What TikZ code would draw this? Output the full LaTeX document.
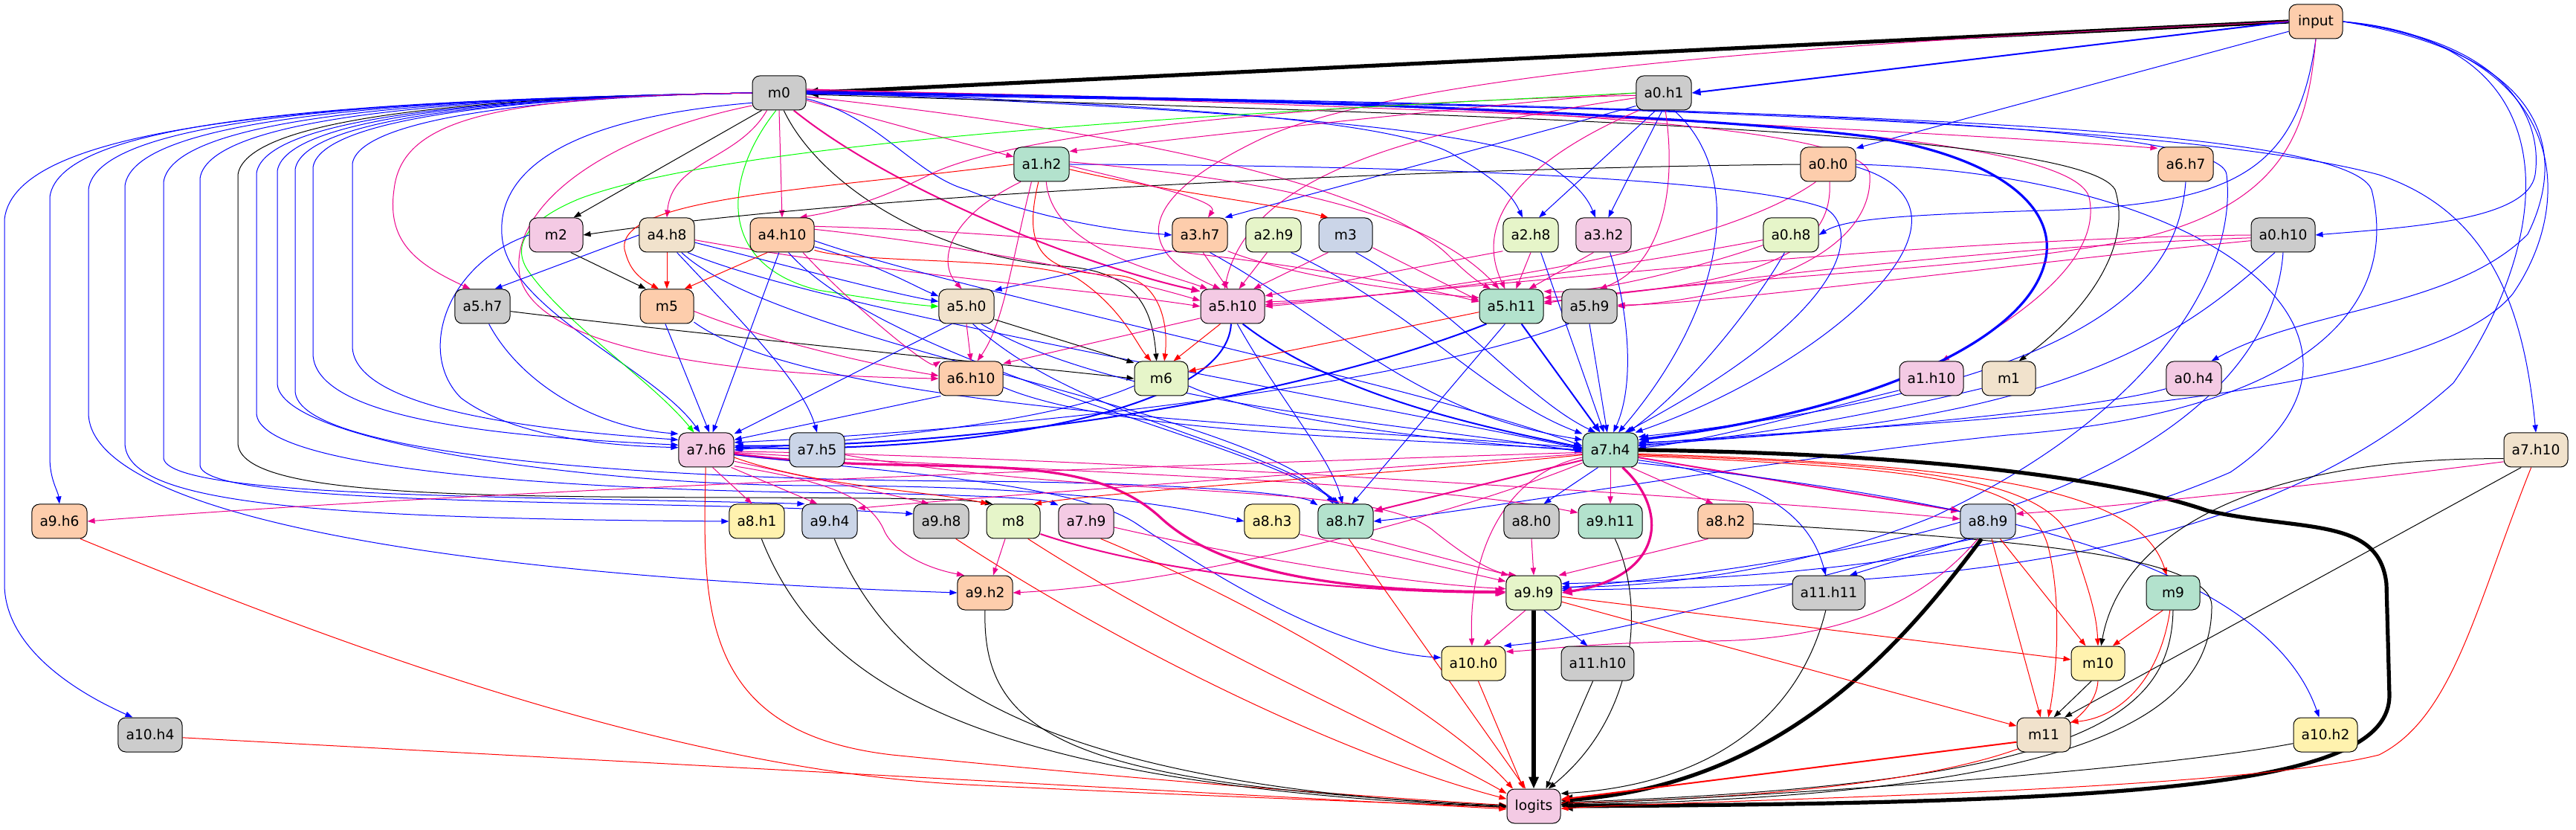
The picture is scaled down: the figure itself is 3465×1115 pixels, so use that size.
\documentclass[tikz,border=0pt]{standalone}
\usepackage{fontspec}
\setmainfont{DejaVu Sans}
\usetikzlibrary{arrows.meta}
\pgfdeclarelayer{bg}
\pgfdeclarelayer{edges}
\pgfsetlayers{bg,edges,main}
\definecolor{cA}{HTML}{B3E2CD}
\definecolor{cB}{HTML}{FDCDAC}
\definecolor{cC}{HTML}{CBD5E8}
\definecolor{cD}{HTML}{F4CAE4}
\definecolor{cE}{HTML}{E6F5C9}
\definecolor{cF}{HTML}{FFF2AE}
\definecolor{cG}{HTML}{F1E2CC}
\definecolor{cH}{HTML}{CCCCCC}
\begin{document}
\begin{tikzpicture}[x=0.5pt,y=0.5pt,
  nd/.style={draw=black,line width=0.5pt,rounded corners=5pt,minimum width=36pt,minimum height=23pt,inner xsep=5.3pt,inner ysep=2pt,font=\fontsize{9.33pt}{11pt}\selectfont},
  ed/.style={line width=0.5pt,-{Triangle[length=5pt,width=3.6pt]}},
  eb/.style={ed,draw=blue},
  em/.style={ed,draw=magenta},
  eg/.style={ed,draw=green},
  er/.style={ed,draw=red},
  ek/.style={ed,draw=black},
  wB/.style={line width=1pt,-{Triangle[length=6pt,width=4.6pt]}},
  wC/.style={line width=1.6pt,-{Triangle[length=7pt,width=5.6pt]}},
  wD/.style={line width=2.6pt,-{Triangle[length=8pt,width=6.4pt]}}]
\useasboundingbox (0,0) rectangle (3465,1115);
\begin{pgfonlayer}{bg}
\fill[white] (0,0) rectangle (3465,1115);
\end{pgfonlayer}
% nodes
\node[nd,fill=cB] (input) at (3115,1086) {input};
\node[nd,fill=cH] (m0) at (1048,990) {m0};
\node[nd,fill=cH] (a0h1) at (2238,990) {a0.h1};
\node[nd,fill=cA] (a1h2) at (1401,894) {a1.h2};
\node[nd,fill=cB] (a0h0) at (2459,894) {a0.h0};
\node[nd,fill=cB] (a6h7) at (2940,894) {a6.h7};
\node[nd,fill=cD] (m2) at (748,799) {m2};
\node[nd,fill=cG] (a4h8) at (897,799) {a4.h8};
\node[nd,fill=cB] (a4h10) at (1052,799) {a4.h10};
\node[nd,fill=cB] (a3h7) at (1614,799) {a3.h7};
\node[nd,fill=cE] (a2h9) at (1713,799) {a2.h9};
\node[nd,fill=cC] (m3) at (1810,799) {m3};
\node[nd,fill=cE] (a2h8) at (2059,799) {a2.h8};
\node[nd,fill=cD] (a3h2) at (2157,799) {a3.h2};
\node[nd,fill=cE] (a0h8) at (2409,799) {a0.h8};
\node[nd,fill=cH] (a0h10) at (3071,799) {a0.h10};
\node[nd,fill=cH] (a5h7) at (649,703) {a5.h7};
\node[nd,fill=cB] (m5) at (897,703) {m5};
\node[nd,fill=cG] (a5h0) at (1300,703) {a5.h0};
\node[nd,fill=cD] (a5h10) at (1658,703) {a5.h10};
\node[nd,fill=cA] (a5h11) at (2033,703) {a5.h11};
\node[nd,fill=cH] (a5h9) at (2138,703) {a5.h9};
\node[nd,fill=cB] (a6h10) at (1306,606) {a6.h10};
\node[nd,fill=cE] (m6) at (1562,606) {m6};
\node[nd,fill=cD] (a1h10) at (2598,606) {a1.h10};
\node[nd,fill=cG] (m1) at (2702,606) {m1};
\node[nd,fill=cD] (a0h4) at (2951,606) {a0.h4};
\node[nd,fill=cD] (a7h6) at (950,510) {a7.h6};
\node[nd,fill=cC] (a7h5) at (1099,510) {a7.h5};
\node[nd,fill=cA] (a7h4) at (2166,510) {a7.h4};
\node[nd,fill=cG] (a7h10) at (3411,510) {a7.h10};
\node[nd,fill=cB] (a9h6) at (80,414) {a9.h6};
\node[nd,fill=cF] (a8h1) at (1018,414) {a8.h1};
\node[nd,fill=cC] (a9h4) at (1116,414) {a9.h4};
\node[nd,fill=cH] (a9h8) at (1266,414) {a9.h8};
\node[nd,fill=cE] (m8) at (1363,414) {m8};
\node[nd,fill=cD] (a7h9) at (1461,414) {a7.h9};
\node[nd,fill=cF] (a8h3) at (1711,414) {a8.h3};
\node[nd,fill=cA] (a8h7) at (1810,414) {a8.h7};
\node[nd,fill=cH] (a8h0) at (2060,414) {a8.h0};
\node[nd,fill=cA] (a9h11) at (2166,414) {a9.h11};
\node[nd,fill=cB] (a8h2) at (2321,414) {a8.h2};
\node[nd,fill=cC] (a8h9) at (2674,414) {a8.h9};
\node[nd,fill=cB] (a9h2) at (1325,318) {a9.h2};
\node[nd,fill=cE] (a9h9) at (2063,318) {a9.h9};
\node[nd,fill=cH] (a11h11) at (2460,318) {a11.h11};
\node[nd,fill=cA] (m9) at (2923,318) {m9};
\node[nd,fill=cF] (a10h0) at (1982,223) {a10.h0};
\node[nd,fill=cH] (a11h10) at (2149,223) {a11.h10};
\node[nd,fill=cF] (m10) at (2822,223) {m10};
\node[nd,fill=cH] (a10h4) at (202,127) {a10.h4};
\node[nd,fill=cG] (m11) at (2749,127) {m11};
\node[nd,fill=cF] (a10h2) at (3128,127) {a10.h2};
\node[nd,fill=cD] (logits) at (2063,31) {logits};

\begin{pgfonlayer}{edges}
% input
\draw[ek,wD] (input.west) -- (m0.east);
\draw[eb,wB] (input.west) -- (a0h1.east);
\draw[eb] (input.200) -- (a0h0.30);
\draw[eb] (input.south) .. controls (3090,880) and (3000,840) .. (2750,832) .. controls (2550,826) and (2480,820) .. (a0h8.east);
\draw[eb] (input.east) .. controls (3380,1060) and (3420,950) .. (3410,880) .. controls (3400,820) and (3250,810) .. (a0h10.east);
\draw[eb] (input.east) .. controls (3440,1040) and (3450,900) .. (3400,800) .. controls (3300,700) and (3100,700) .. (a0h4.45);
\draw[eb] (input.east) .. controls (3450,1050) and (3470,850) .. (3380,720) .. controls (3250,560) and (2500,545) .. (a7h4.12);
\draw[eb] (input.east) .. controls (3460,1060) and (3440,800) .. (3300,600) .. controls (3000,330) and (2500,330) .. (a9h9.5);
\draw[em] (input.south) .. controls (3105,950) and (3080,850) .. (2900,800) .. controls (2700,750) and (2300,745) .. (a5h11.5);
\draw[em] (input.west) .. controls (2500,1060) and (1900,1020) .. (1700,930) .. controls (1530,850) and (1520,780) .. (a5h10.125);
% m0 left loops
\draw[eb] (m0.west) .. controls (400,978) and (20,945) .. (6,820) -- (6,330) .. controls (6,250) and (90,190) .. (a10h4.135);
\draw[eb] (m0.west) .. controls (450,980) and (80,952) .. (67,850) -- (67,500) .. controls (67,470) and (78,455) .. (a9h6.north);
\draw[eb] (m0.west) .. controls (500,981) and (130,955) .. (119,860) -- (119,560) .. controls (119,440) and (500,345) .. (a9h2.west);
\draw[eb] (m0.west) .. controls (550,982) and (180,958) .. (168,865) -- (168,520) .. controls (168,440) and (400,418) .. (a8h1.west);
\draw[eb] (m0.west) .. controls (600,983) and (232,960) .. (220,870) -- (220,500) .. controls (220,445) and (700,448) .. (a9h4.145);
\draw[eb] (m0.west) .. controls (650,984) and (281,962) .. (269,875) -- (269,490) .. controls (269,430) and (900,445) .. (a9h8.165);
\draw[ek] (m0.west) .. controls (700,985) and (332,964) .. (320,880) -- (320,520) .. controls (320,450) and (600,447) .. (1000,446) .. controls (1200,445) and (1290,445) .. (m8.140);
\draw[eb] (m0.west) .. controls (725,985) and (357,965) .. (345,882) -- (345,560) .. controls (345,480) and (800,455) .. (1150,452) .. controls (1300,450) and (1400,445) .. (a7h9.150);
\draw[eb] (m0.west) .. controls (750,986) and (385,966) .. (373,885) -- (373,600) .. controls (373,520) and (800,462) .. (1100,462) .. controls (1400,462) and (1560,440) .. (a8h3.west);
\draw[eb] (m0.west) .. controls (775,986) and (409,967) .. (397,887) -- (397,590) .. controls (397,500) and (900,470) .. (1300,468) .. controls (1600,466) and (1750,450) .. (a8h7.150);
\draw[eb] (m0.west) .. controls (800,987) and (433,968) .. (421,890) -- (421,640) .. controls (421,540) and (750,525) .. (a7h6.170);
\draw[eb] (m0.west) .. controls (850,988) and (486,970) .. (474,895) -- (474,650) .. controls (474,560) and (750,535) .. (a7h6.160);
\draw[em] (m0.west) .. controls (650,985) and (540,950) .. (530,860) .. controls (520,790) and (560,760) .. (a5h7.125);
\draw[eb] (m0.200) .. controls (750,955) and (670,880) .. (675,800) .. controls (680,700) and (880,620) .. (a7h6.110);
\draw[em] (m0.205) .. controls (800,930) and (680,830) .. (700,740) .. controls (730,640) and (1000,610) .. (a6h10.west);
% m0 others
\draw[ek] (m0.225) -- (m2.45);
\draw[em] (m0.235) to[out=240,in=85] (a4h8.north);
\draw[em] (m0.south) -- (a4h10.north);
\draw[eg] (m0.-100) .. controls (975,880) and (960,760) .. (1100,725) .. controls (1180,712) and (1230,705) .. (a5h0.west);
\draw[ek] (m0.-75) .. controls (1100,870) and (1250,770) .. (1430,757) .. controls (1530,750) and (1550,700) .. (m6.105);
\draw[em,wB] (m0.-50) .. controls (1200,860) and (1450,760) .. (a5h10.155);
\draw[em] (m0.-15) -- (a1h2.165);
\draw[eb] (m0.-12) .. controls (1180,960) and (1230,880) .. (1300,860) .. controls (1400,820) and (1500,805) .. (a3h7.west);
\draw[eb] (m0.5) .. controls (1500,975) and (1850,960) .. (1950,910) .. controls (2020,870) and (2035,850) .. (a2h8.115);
\draw[eb] (m0.2) .. controls (1600,970) and (2000,945) .. (2080,895) .. controls (2120,868) and (2135,850) .. (a3h2.115);
\draw[em] (m0.-8) .. controls (1500,940) and (1850,870) .. (1950,770) .. controls (1975,745) and (1990,735) .. (a5h11.140);
\draw[em] (m0.8) .. controls (1800,975) and (2500,945) .. (a6h7.150);
\draw[em] (m0.3) .. controls (2000,975) and (2780,950) .. (2810,850) .. controls (2830,760) and (2700,680) .. (a1h10.60);
\draw[ek] (m0.-3) .. controls (2000,960) and (2800,940) .. (2845,860) .. controls (2870,780) and (2800,690) .. (m1.60);
\draw[em] (m0.6) .. controls (1800,980) and (2510,960) .. (2515,880) .. controls (2520,790) and (2400,720) .. (a5h9.east);
\draw[eb,wC] (m0.east) .. controls (1700,985) and (2300,960) .. (2523,930) .. controls (2700,900) and (2770,830) .. (2750,760) .. controls (2720,650) and (2500,560) .. (a7h4.20);
\draw[eb] (m0.4) .. controls (2000,975) and (2900,960) .. (3200,880) .. controls (3350,830) and (3395,700) .. (a7h10.north);
\draw[eb] (m0.1) .. controls (2200,975) and (2990,955) .. (2995,880) .. controls (3010,750) and (2900,560) .. (2600,420) .. controls (2400,340) and (2200,325) .. (a9h9.12);
\draw[eb] (m0.-2) .. controls (2200,970) and (3150,960) .. (3190,860) .. controls (3230,700) and (3100,560) .. (2700,530) .. controls (2400,500) and (2000,430) .. (a8h7.east);
% a0.h1
\draw[em] (a0h1.west) .. controls (2000,975) and (1600,930) .. (a1h2.25);
\draw[em] (a0h1.185) .. controls (1700,975) and (1350,930) .. (1250,880) .. controls (1170,840) and (1120,830) .. (a4h10.45);
\draw[eg] (a0h1.180) .. controls (1700,965) and (1000,930) .. (780,848) .. controls (700,815) and (690,780) .. (711,750) .. controls (760,680) and (880,600) .. (a7h6.125);
\draw[eb] (a0h1.205) -- (a3h7.35);
\draw[eb] (a0h1.245) -- (a2h8.65);
\draw[eb] (a0h1.265) -- (a3h2.75);
\draw[em] (a0h1.-85) .. controls (2255,870) and (2240,760) .. (a5h9.60);
\draw[em] (a0h1.190) .. controls (1900,940) and (1680,880) .. (a5h10.115);
\draw[em] (a0h1.215) .. controls (2050,900) and (1980,820) .. (a5h11.110);
\draw[eb] (a0h1.-60) .. controls (2350,880) and (2320,700) .. (a7h4.65);
% a0.h0
\draw[ek] (a0h0.west) .. controls (2000,890) and (1200,860) .. (m2.east);
\draw[em] (a0h0.-125) .. controls (2300,770) and (1900,720) .. (a5h10.east);
\draw[em] (a0h0.-85) .. controls (2465,790) and (2400,730) .. (a5h11.15);
\draw[eb] (a0h0.-5) .. controls (2700,830) and (2450,620) .. (a7h4.35);
\draw[eb] (a0h0.east) .. controls (3000,880) and (3250,650) .. (3000,480) .. controls (2700,350) and (2300,335) .. (a9h9.18);
% a0.h8, a0.h10, a0.h4
\draw[eb] (a0h8.-110) .. controls (2370,720) and (2280,600) .. (a7h4.45);
\draw[em] (a0h8.190) .. controls (2200,760) and (1900,715) .. (a5h10.8);
\draw[em] (a0h8.200) .. controls (2300,760) and (2150,720) .. (a5h11.25);
\draw[em] (a0h10.180) .. controls (2600,795) and (2000,730) .. (a5h10.3);
\draw[em] (a0h10.185) .. controls (2600,780) and (2200,720) .. (a5h11.8);
\draw[em] (a0h10.190) .. controls (2700,760) and (2300,705) .. (a5h9.3);
\draw[eb] (a0h10.-115) .. controls (2950,680) and (2800,540) .. (a7h4.15);
\draw[eb] (a0h10.-90) .. controls (3060,620) and (2900,460) .. (2500,380) .. controls (2300,340) and (2150,330) .. (a9h9.8);
\draw[eb] (a0h4.200) .. controls (2800,560) and (2400,530) .. (a7h4.10);
\draw[eb] (m1.200) .. controls (2550,565) and (2350,525) .. (a7h4.8);
\draw[eb] (a1h10.200) .. controls (2450,565) and (2300,522) .. (a7h4.4);
\draw[eb] (a6h7.south) .. controls (2930,750) and (2850,600) .. (a7h4.25);
% a1.h2
\draw[eb] (a1h2.east) .. controls (1900,893) and (2350,875) .. (2455,835) .. controls (2500,810) and (2500,700) .. (a7h4.50);
\draw[er] (a1h2.-10) .. controls (1550,860) and (1720,840) .. (m3.135);
\draw[er] (a1h2.west) .. controls (1100,860) and (830,850) .. (840,780) .. controls (845,760) and (852,745) .. (m5.115);
\draw[er] (a1h2.-100) .. controls (1375,780) and (1400,748) .. (1500,745) .. controls (1560,742) and (1572,680) .. (m6.80);
\draw[em] (a1h2.-140) .. controls (1270,820) and (1262,760) .. (a5h0.105);
\draw[em] (a1h2.-120) .. controls (1360,760) and (1350,680) .. (a6h10.70);
\draw[em] (a1h2.-75) .. controls (1415,780) and (1560,750) .. (a5h10.145);
\draw[em] (a1h2.5) .. controls (1750,870) and (1930,820) .. (a5h11.125);
\draw[em] (a1h2.-3) .. controls (1550,865) and (1640,845) .. (a3h7.65);
% row 3
\draw[eb] (a3h7.-150) -- (a5h0.30);
\draw[em] (a3h7.-80) -- (a5h10.105);
\draw[em] (a3h7.-30) .. controls (1750,740) and (1900,722) .. (a5h11.165);
\draw[eb] (a3h7.-60) .. controls (1800,680) and (1900,560) .. (a7h4.160);
\draw[em] (a2h9.-110) -- (a5h10.70);
\draw[eb] (a2h9.-45) .. controls (1900,700) and (2000,580) .. (a7h4.150);
\draw[em] (m3.-135) -- (a5h10.40);
\draw[eb] (m3.-60) .. controls (1960,700) and (2050,580) .. (a7h4.130);
\draw[em] (m3.-25) -- (a5h11.170);
\draw[em] (a2h8.south) -- (a5h11.75);
\draw[em] (a2h8.-150) -- (a5h10.18);
\draw[eb] (a2h8.-60) -- (a7h4.110);
\draw[em] (a3h2.-120) -- (a5h11.45);
\draw[eb] (a3h2.-70) .. controls (2190,700) and (2200,600) .. (a7h4.80);
\draw[eb] (a4h8.west) -- (a5h7.55);
\draw[er] (a4h8.south) -- (m5.north);
\draw[eb] (a4h8.-15) .. controls (1050,760) and (1200,720) .. (a5h0.170);
\draw[em] (a4h8.-10) .. controls (1200,745) and (1450,728) .. (a5h10.180);
\draw[eb] (a4h8.-60) .. controls (1000,680) and (1080,600) .. (a7h5.north);
\draw[eb] (a4h8.-50) .. controls (1050,650) and (1700,560) .. (a8h7.125);
\draw[eb] (a4h8.-40) .. controls (1100,700) and (1800,580) .. (a7h4.178);
\draw[er] (a4h10.-130) -- (m5.45);
\draw[eb] (a4h10.-100) -- (a7h6.70);
\draw[eb] (a4h10.-20) .. controls (1180,760) and (1230,730) .. (a5h0.160);
\draw[em] (a4h10.10) .. controls (1300,785) and (1500,745) .. (a5h10.170);
\draw[em] (a4h10.15) .. controls (1500,800) and (1850,745) .. (a5h11.172);
\draw[er] (a4h10.-25) .. controls (1150,760) and (1400,770) .. (1450,740) .. controls (1510,700) and (1530,650) .. (m6.120);
\draw[em] (a4h10.-40) .. controls (1150,700) and (1250,620) .. (a6h10.150);
\draw[eb] (a4h10.-70) .. controls (1200,620) and (1700,520) .. (a8h7.115);
\draw[eb] (a4h10.-10) .. controls (1300,720) and (1900,600) .. (a7h4.172);
\draw[ek] (m2.-50) -- (m5.140);
\draw[eb] (m2.west) .. controls (600,760) and (560,640) .. (620,580) .. controls (700,520) and (850,515) .. (a7h6.175);
% row 4
\draw[ek] (a5h7.-10) .. controls (900,670) and (1300,630) .. (m6.west);
\draw[eb] (a5h7.-70) .. controls (700,600) and (800,540) .. (a7h6.150);
\draw[eb] (m5.-95) -- (a7h6.80);
\draw[em] (m5.-10) .. controls (1050,650) and (1200,620) .. (a6h10.175);
\draw[eb] (m5.-30) .. controls (1100,560) and (1800,540) .. (a7h4.176);
\draw[em] (a5h0.south) -- (a6h10.north);
\draw[ek] (a5h0.-25) -- (m6.150);
\draw[eb] (a5h0.-130) -- (a7h6.30);
\draw[eb] (a5h0.-50) .. controls (1500,570) and (1900,545) .. (a7h4.184);
\draw[eb] (a5h0.-70) .. controls (1450,550) and (1700,520) .. (a8h7.110);
\draw[er] (a5h10.-125) -- (m6.55);
\draw[em] (a5h10.-160) -- (a6h10.25);
\draw[eb,wB] (a5h10.-95) .. controls (1650,560) and (1300,505) .. (a7h6.5);
\draw[eb,wB] (a5h10.-60) .. controls (1800,580) and (2000,540) .. (a7h4.175);
\draw[eb] (a5h10.-75) .. controls (1720,580) and (1790,500) .. (a8h7.100);
\draw[er] (a5h11.190) -- (m6.15);
\draw[eb,wB] (a5h11.-145) .. controls (1800,600) and (1400,515) .. (a7h6.8);
\draw[eb,wB] (a5h11.-60) -- (a7h4.120);
\draw[eb] (a5h11.-110) -- (a8h7.70);
\draw[eb] (a5h9.south) -- (a7h4.100);
\draw[eb] (a5h9.-140) .. controls (1900,600) and (1400,540) .. (a7h6.15);
% row 5
\draw[eb] (a6h10.-150) -- (a7h6.20);
\draw[eb] (a6h10.-15) .. controls (1500,530) and (1900,525) .. (a7h4.180);
\draw[eb] (m6.-165) .. controls (1400,540) and (1100,520) .. (a7h6.0);
\draw[eb] (m6.-15) .. controls (1700,550) and (1950,520) .. (a7h4.181);
% a7.h6
\draw[em] (a7h6.-70) -- (a8h1.105);
\draw[em] (a7h6.-35) -- (a9h4.125);
\draw[em] (a7h6.-22) .. controls (1100,470) and (1200,450) .. (a9h8.125);
\draw[er] (a7h6.-15) .. controls (1100,460) and (1250,455) .. (m8.145);
\draw[em] (a7h6.-30) .. controls (1100,470) and (1170,450) .. (1190,400) .. controls (1205,370) and (1250,350) .. (a9h2.140);
\draw[em,wC] (a7h6.-8) .. controls (1250,470) and (1450,520) .. (1560,420) .. controls (1640,345) and (1800,320) .. (a9h9.178);
\draw[em] (a7h6.-5) .. controls (1400,480) and (1900,470) .. (a9h11.165);
\draw[em] (a7h6.-3) .. controls (1500,500) and (2400,440) .. (a8h9.175);
\draw[eb] (a7h6.-10) .. controls (1200,480) and (1450,465) .. (1530,410) .. controls (1650,330) and (1800,240) .. (a10h0.170);
\draw[er] (a7h6.-92) .. controls (945,300) and (940,130) .. (1200,100) .. controls (1600,60) and (1900,40) .. (logits.178);
\draw[em] (a7h5.-10) .. controls (1500,440) and (1850,470) .. (1930,400) .. controls (1980,360) and (2010,345) .. (a9h9.135);
% a7.h4
\draw[em,wC] (a7h4.-55) .. controls (2245,430) and (2240,340) .. (a9h9.east);
\draw[em,wB] (a7h4.-15) -- (a8h9.160);
\draw[em,wB] (a7h4.200) -- (a8h7.20);
\draw[eb] (a7h4.-125) -- (a8h0.55);
\draw[em] (a7h4.south) -- (a9h11.north);
\draw[em] (a7h4.-40) -- (a8h2.125);
\draw[em] (a7h4.185) .. controls (1600,490) and (700,460) .. (a9h6.east);
\draw[em] (a7h4.188) .. controls (1700,475) and (1300,445) .. (a9h4.25);
\draw[er] (a7h4.190) .. controls (1900,480) and (1500,455) .. (m8.40);
\draw[em] (a7h4.205) .. controls (1950,420) and (1600,330) .. (a9h2.east);
\draw[em] (a7h4.195) .. controls (2030,480) and (1975,380) .. (a10h0.95);
\draw[eb] (a7h4.-20) .. controls (2400,470) and (2440,400) .. (a11h11.100);
\draw[er] (a7h4.-8) .. controls (2700,490) and (2880,450) .. (m9.110);
\draw[er] (a7h4.-10) .. controls (2600,490) and (2760,470) .. (2790,380) .. controls (2810,320) and (2820,290) .. (m10.north);
\draw[er] (a7h4.-12) .. controls (2600,485) and (2730,470) .. (2755,380) .. controls (2775,300) and (2765,200) .. (m11.75);
\draw[eb] (a7h4.-25) .. controls (2700,440) and (3050,350) .. (a10h2.110);
\draw[ek,wD] (a7h4.east) .. controls (2600,505) and (2850,470) .. (2970,428) .. controls (3100,400) and (3200,420) .. (3210,330) -- (3214,180) .. controls (3214,60) and (2900,35) .. (logits.east);
% a7.h10
\draw[em] (a7h10.200) .. controls (3100,460) and (2800,430) .. (a8h9.15);
\draw[ek] (a7h10.195) .. controls (3000,500) and (2850,380) .. (m10.80);
\draw[ek] (a7h10.-130) -- (m11.40);
\draw[er] (a7h10.-105) .. controls (3330,300) and (3300,150) .. (3200,100) .. controls (3000,50) and (2300,40) .. (logits.-5);
% row 7
\draw[er] (a9h6.-40) .. controls (450,250) and (900,80) .. (1300,60) .. controls (1600,45) and (1900,35) .. (logits.183);
\draw[ek] (a8h1.-75) .. controls (1100,200) and (1300,60) .. (logits.182);
\draw[ek] (a9h4.-75) .. controls (1200,200) and (1400,60) .. (logits.181);
\draw[er] (a9h8.-50) .. controls (1500,250) and (1800,100) .. (logits.165);
\draw[em] (m8.-115) -- (a9h2.65);
\draw[em,wB] (m8.-25) .. controls (1600,330) and (1900,318) .. (a9h9.180);
\draw[er] (m8.-50) .. controls (1600,250) and (1900,120) .. (logits.155);
\draw[em] (a7h9.-12) .. controls (1700,360) and (1900,330) .. (a9h9.172);
\draw[er] (a7h9.-50) .. controls (1700,300) and (1950,150) .. (logits.140);
\draw[em] (a8h3.-25) -- (a9h9.158);
\draw[em] (a8h7.-35) -- (a9h9.145);
\draw[er] (a8h7.-80) -- (logits.115);
\draw[em] (a8h0.south) -- (a9h9.north);
\draw[ek] (a9h11.-75) .. controls (2215,300) and (2200,150) .. (logits.50);
\draw[em] (a8h2.-135) -- (a9h9.35);
\draw[ek] (a8h2.-5) .. controls (2700,390) and (2975,370) .. (2975,300) .. controls (2975,150) and (2800,45) .. (logits.3);
\draw[eb] (a8h9.-140) -- (a11h11.40);
\draw[er] (a8h9.-55) -- (m10.125);
\draw[er] (a8h9.-78) -- (m11.100);
\draw[em] (a8h9.-120) .. controls (2600,320) and (2500,255) .. (2300,253) .. controls (2150,252) and (2060,240) .. (a10h0.20);
\draw[eb] (a8h9.-130) .. controls (2500,360) and (2200,262) .. (a10h0.30);
\draw[ek,wD] (a8h9.250) .. controls (2560,250) and (2400,60) .. (logits.12);
% row 8
\draw[ek] (a9h2.south) .. controls (1320,120) and (1450,60) .. (logits.179);
\draw[em] (a9h9.-115) -- (a10h0.60);
\draw[eb] (a9h9.-60) -- (a11h10.120);
\draw[er] (a9h9.-8) -- (m10.172);
\draw[er] (a9h9.-18) -- (m11.162);
\draw[ek,wD] (a9h9.south) -- (logits.north);
\draw[ek] (a11h11.-100) .. controls (2420,150) and (2300,60) .. (logits.25);
\draw[er] (m9.-120) -- (m10.50);
\draw[er] (m9.-100) .. controls (2905,200) and (2850,150) .. (m11.25);
\draw[ek] (m9.-90) .. controls (2920,150) and (2800,60) .. (logits.8);
% row 9-10
\draw[er] (a10h0.-75) -- (logits.120);
\draw[ek] (a11h10.-105) -- (logits.55);
\draw[ek] (m10.-110) -- (m11.60);
\draw[er] (m10.-90) .. controls (2815,90) and (2500,45) .. (logits.6);
\draw[er] (a10h4.-5) -- (logits.186);
\draw[er,wB] (m11.-165) -- (logits.14);
\draw[ek] (a10h2.-165) .. controls (2900,80) and (2400,45) .. (logits.4);
\end{pgfonlayer}
\end{tikzpicture}
\end{document}
